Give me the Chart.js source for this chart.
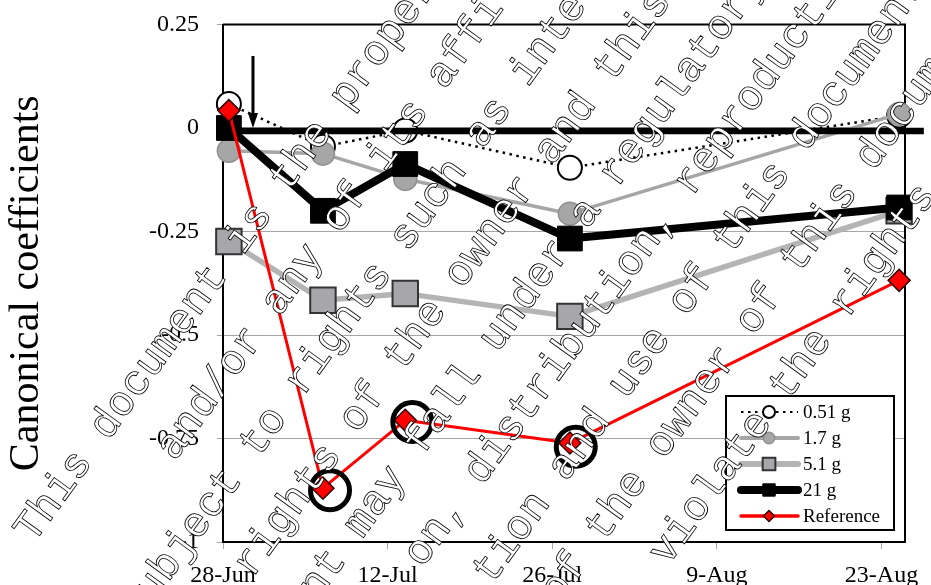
<!DOCTYPE html>
<html>
<head>
<meta charset="utf-8">
<script src="https://cdn.jsdelivr.net/npm/chart.js@4.4.1/dist/chart.umd.min.js"></script>
<style>
  html, body { margin: 0; padding: 0; background: #fff; }
  #wrap { width: 931px; height: 585px; }
</style>
</head>
<body>
<div id="wrap"><canvas id="chart" width="931" height="585"></canvas></div>
<script>
// x values are days counted from 28-Jun
const sampleDays = [0.5, 8.5, 15.5, 29.5, 57.5];
const tickDays   = [0, 14, 28, 42, 56];
const tickLabels = ['28-Jun', '12-Jul', '26-Jul', '9-Aug', '23-Aug'];
const yTicks     = [-1, -0.75, -0.5, -0.25, 0, 0.25];

const g051      = [0.058, -0.045, -0.006, -0.096, 0.03];
const g17       = [-0.055, -0.062, -0.123, -0.207, 0.034];
const g51       = [-0.274, -0.416, -0.400, -0.455, -0.20];
const g21       = [0.0, -0.20, -0.087, -0.267, -0.192];
const reference = [0.042, -0.870, -0.706, -0.761, -0.368];

// circled reference points
const circleDays = [9.1, 16.1, 30.0];
const circleVals = [-0.875, -0.71, -0.77];

// thick zero line and the arrow pointing at it
const zeroDays = [0.5, 59.6];
const zeroVals = [-0.007, -0.007];
const arrowDay = 2.55, arrowFrom = 0.174, arrowTo = 0.0;

const pts = (xs, ys) => xs.map((x, i) => ({ x, y: ys[i] }));

const SERIF = '"Liberation Serif", "Times New Roman", serif';

// frame round the plot area (top and right sides)
const plotBorder = {
    id: 'plotBorder',
    beforeDatasetsDraw(chart) {
        const { ctx, chartArea: a } = chart;
        ctx.save();
        ctx.strokeStyle = '#000';
        ctx.lineWidth = 2;
        ctx.beginPath();
        ctx.moveTo(a.left, a.top);
        ctx.lineTo(a.right, a.top);
        ctx.lineTo(a.right, a.bottom);
        ctx.stroke();
        ctx.restore();
    },
};

const arrow = {
    id: 'arrow',
    afterDatasetsDraw(chart) {
        const { ctx, scales: { x, y } } = chart;
        const px = x.getPixelForValue(arrowDay);
        const top = y.getPixelForValue(arrowFrom);
        const tip = y.getPixelForValue(arrowTo);
        ctx.save();
        ctx.strokeStyle = '#000';
        ctx.fillStyle = '#000';
        ctx.lineWidth = 3;
        ctx.beginPath();
        ctx.moveTo(px, top);
        ctx.lineTo(px, tip - 12);
        ctx.stroke();
        ctx.beginPath();
        ctx.moveTo(px - 5, tip - 15);
        ctx.lineTo(px + 5, tip - 15);
        ctx.lineTo(px, tip);
        ctx.closePath();
        ctx.fill();
        ctx.restore();
    },
};

function marker(ctx, style, x, y, r, fill, stroke, lw) {
    ctx.beginPath();
    if (style === 'rect') {
        const s = r * Math.SQRT1_2;
        ctx.rect(x - s, y - s, 2 * s, 2 * s);
    } else if (style === 'rectRot') {
        ctx.moveTo(x - r, y);
        ctx.lineTo(x, y - r);
        ctx.lineTo(x + r, y);
        ctx.lineTo(x, y + r);
        ctx.closePath();
    } else {
        ctx.arc(x, y, r, 0, Math.PI * 2);
    }
    ctx.fillStyle = fill;
    ctx.fill();
    if (lw) {
        ctx.lineWidth = lw;
        ctx.strokeStyle = stroke;
        ctx.stroke();
    }
}

// legend box inside the plot, bottom right
const legendBox = {
    id: 'legendBox',
    afterDatasetsDraw(chart) {
        const { ctx, chartArea: a } = chart;
        const w = 168, h = 134;
        const x0 = a.right - 11 - w, y0 = a.bottom - 12 - h;
        ctx.save();
        ctx.fillStyle = '#fff';
        ctx.fillRect(x0, y0, w, h);
        ctx.strokeStyle = '#000';
        ctx.lineWidth = 2;
        ctx.strokeRect(x0, y0, w, h);

        const items = chart.data.datasets.filter(d => !d.noLegend);
        items.forEach((d, i) => {
            const cy = y0 + 16 + i * 26;
            ctx.save();
            ctx.strokeStyle = d.borderColor;
            ctx.lineWidth = d.legendLine;
            ctx.lineCap = d.borderDash ? 'butt' : 'round';
            ctx.setLineDash(d.borderDash || []);
            ctx.beginPath();
            ctx.moveTo(x0 + 15, cy);
            ctx.lineTo(x0 + 72, cy);
            ctx.stroke();
            ctx.restore();
            marker(ctx, d.pointStyle, x0 + 43, cy, d.pointRadius * 0.5,
                d.pointBackgroundColor, d.pointBorderColor, d.pointBorderWidth);
            ctx.fillStyle = '#000';
            ctx.font = '19px ' + SERIF;
            ctx.textBaseline = 'middle';
            ctx.textAlign = 'left';
            ctx.fillText(d.label, x0 + 77, cy + 1);
        });
        ctx.restore();
    },
};

// diagonal outlined notice printed over the figure
const watermarkLines = [
    ['This document is the property of', -421],
    ['and/or any of its affiliates', -271],
    ['subject to rights such as intellectual', -424],
    ['rights of the owner and this document', -320],
    ['nt may fall under a regulatory', -300],
    ['on, distribution, reproduction', -212],
    ['tion and use of this document', -185],
    ['of the owner of this document', -161],
    ['violate the rights of the owner', -66],
];

const watermark = {
    id: 'watermark',
    afterDraw(chart) {
        const { ctx } = chart;
        ctx.save();
        ctx.rotate(-54 * Math.PI / 180);
        ctx.font = '42.5px "Liberation Mono", "Courier New", monospace';
        ctx.textAlign = 'left';
        ctx.textBaseline = 'alphabetic';
        ctx.lineWidth = 0.8;
        ctx.strokeStyle = '#000';
        ctx.fillStyle = '#fff';
        watermarkLines.forEach(([text, start], i) => {
            const base = 347 + 65.8 * i;
            ctx.fillText(text, start, base);
            ctx.strokeText(text, start, base);
        });
        ctx.restore();
    },
};

new Chart(document.getElementById('chart'), {
    type: 'line',
    data: {
        datasets: [
            {
                label: '0.51 g',
                data: pts(sampleDays, g051),
                borderColor: '#000',
                borderWidth: 2.5,
                borderDash: [2.5, 4.5],
                legendLine: 2,
                pointStyle: 'circle',
                pointRadius: 12,
                pointBackgroundColor: '#fff',
                pointBorderColor: '#000',
                pointBorderWidth: 2,
                order: 6,
            },
            {
                label: '1.7 g',
                data: pts(sampleDays, g17),
                borderColor: '#a6a6a6',
                borderWidth: 3.5,
                legendLine: 4,
                pointStyle: 'circle',
                pointRadius: 11.5,
                pointBackgroundColor: '#a6a6a6',
                pointBorderColor: '#8f8f8f',
                pointBorderWidth: 1.5,
                order: 5,
            },
            {
                label: '5.1 g',
                data: pts(sampleDays, g51),
                borderColor: '#b4b4b4',
                borderWidth: 5.5,
                legendLine: 6,
                pointStyle: 'rect',
                pointRadius: 18,
                pointBackgroundColor: '#a6a6ab',
                pointBorderColor: '#333',
                pointBorderWidth: 2,
                order: 4,
            },
            {
                label: '21 g',
                data: pts(sampleDays, g21),
                borderColor: '#000',
                borderWidth: 8,
                legendLine: 8,
                pointStyle: 'rect',
                pointRadius: 17.5,
                pointBackgroundColor: '#000',
                pointBorderColor: '#000',
                pointBorderWidth: 1,
                order: 2,
            },
            {
                label: 'Reference',
                data: pts(sampleDays, reference),
                borderColor: '#ff0000',
                borderWidth: 3,
                legendLine: 3.5,
                pointStyle: 'rectRot',
                pointRadius: 11,
                pointBackgroundColor: '#ff0000',
                pointBorderColor: '#300',
                pointBorderWidth: 1.5,
                order: 1,
            },
            {
                label: 'circled',
                noLegend: true,
                data: pts(circleDays, circleVals),
                showLine: false,
                pointStyle: 'circle',
                pointRadius: 19.5,
                pointBackgroundColor: 'rgba(0,0,0,0)',
                pointBorderColor: '#000',
                pointBorderWidth: 5,
                order: 0,
            },
            {
                label: 'zero',
                noLegend: true,
                data: pts(zeroDays, zeroVals),
                borderColor: '#000',
                borderWidth: 6.5,
                pointRadius: 0,
                order: 3,
            },
        ],
    },
    options: {
        responsive: false,
        animation: false,
        devicePixelRatio: 1,
        events: [],
        layout: { padding: { top: 23, right: 23, left: 0, bottom: 0 } },
        elements: { line: { tension: 0, borderCapStyle: 'butt', borderJoinStyle: 'round' } },
        datasets: { line: { clip: false } },
        plugins: {
            legend: { display: false },
            tooltip: { enabled: false },
        },
        scales: {
            x: {
                type: 'linear',
                min: 0,
                max: 58,
                afterBuildTicks: (s) => { s.ticks = tickDays.map(v => ({ value: v })); },
                afterFit: (s) => { s.height = 43; },
                grid: { drawOnChartArea: false, tickLength: 7, color: '#a6a6a6' },
                border: { color: '#000', width: 2 },
                ticks: {
                    autoSkip: false,
                    maxRotation: 0,
                    padding: 12,
                    color: '#000',
                    font: { family: SERIF, size: 24 },
                    callback: (v, i) => tickLabels[i],
                },
            },
            y: {
                min: -1,
                max: 0.25,
                afterBuildTicks: (s) => { s.ticks = yTicks.map(v => ({ value: v })); },
                afterFit: (s) => { s.width = 223; },
                grid: { color: '#a6a6a6', tickLength: 6 },
                border: { color: '#000', width: 2 },
                ticks: {
                    padding: 18,
                    color: '#000',
                    font: { family: SERIF, size: 24, lineHeight: 0.3 },
                    callback: (v) => String(v),
                },
                title: {
                    display: true,
                    text: 'Canonical coefficients',
                    color: '#000',
                    font: { family: SERIF, size: 42 },
                    padding: { top: 2, bottom: 0 },
                },
            },
        },
    },
    plugins: [plotBorder, arrow, legendBox, watermark],
});
</script>
</body>
</html>
